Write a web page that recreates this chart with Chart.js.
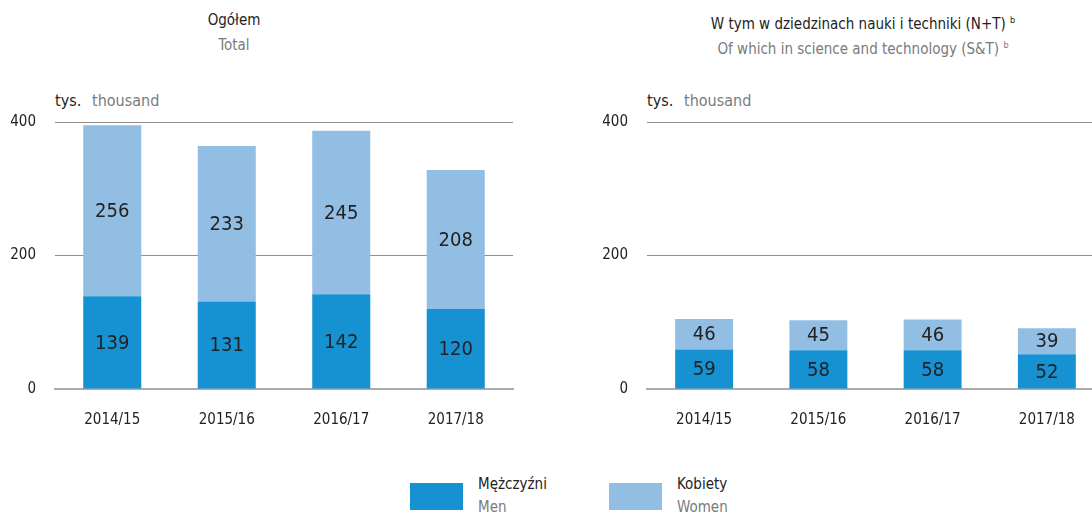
<!DOCTYPE html>
<html>
<head>
<meta charset="utf-8">
<script src="https://cdn.jsdelivr.net/npm/chart.js@4"></script>
<style>
  body { margin: 0; background: #fff; overflow: hidden; }
  #wrap { position: relative; width: 1092px; height: 515px; overflow: hidden;
          font-family: "Liberation Sans Narrow", "DejaVu Sans Condensed", sans-serif; }
  .t { position: absolute; font-size: 15px; white-space: nowrap; line-height: 20px; }
  .dark { color: #222; }
  .grey { color: #7a7a7a; }
  sup { font-size: 9px; vertical-align: 6px; }
  .sw { position: absolute; width: 53px; height: 27px; }
  canvas { position: absolute; top: 0; }
</style>
</head>
<body>
<div id="wrap">
  <div class="t dark" style="left:0;width:468px;text-align:center;top:10px">Ogółem</div>
  <div class="t grey" style="left:0;width:468px;text-align:center;top:35px">Total</div>
  <div class="t dark" style="left:600px;width:526px;text-align:center;top:10px">W tym w dziedzinach nauki i techniki (N+T) <sup>b</sup></div>
  <div class="t grey" style="left:600px;width:526px;text-align:center;top:35px">Of which in science and technology (S&amp;T) <sup>b</sup></div>

  <div class="t dark" style="left:55px;top:91px;font-size:16px">tys.</div>
  <div class="t grey" style="left:92px;top:91px;font-size:16px">thousand</div>
  <div class="t dark" style="left:647px;top:91px;font-size:16px">tys.</div>
  <div class="t grey" style="left:684px;top:91px;font-size:16px">thousand</div>

  <canvas id="left" width="546" height="440" style="left:0"></canvas>
  <canvas id="right" width="512" height="440" style="left:592px"></canvas>

  <div class="sw" style="left:410px;top:483px;background:rgb(22,146,211)"></div>
  <div class="t dark" style="left:478px;top:474px">Mężczyźni</div>
  <div class="t grey" style="left:478px;top:497px">Men</div>
  <div class="sw" style="left:609px;top:483px;background:rgb(147,190,228)"></div>
  <div class="t dark" style="left:677px;top:474px">Kobiety</div>
  <div class="t grey" style="left:677px;top:497px">Women</div>
</div>
<script>
const years = ['2014/15', '2015/16', '2016/17', '2017/18'];
const menTotal = [139, 131, 142, 120];
const womenTotal = [256, 233, 245, 208];
const menST = [59, 58, 58, 52];
const womenST = [46, 45, 46, 39];
const yTicks = [0, 200, 400];

const FONT = '"Liberation Sans Narrow", "DejaVu Sans Condensed", sans-serif';
const MEN = 'rgb(22,146,211)';
const WOMEN = 'rgb(147,190,228)';

// value labels in the middle of each segment
const barLabels = {
  id: 'barLabels',
  afterDatasetsDraw(chart) {
    const ctx = chart.ctx;
    ctx.save();
    ctx.font = '20px ' + FONT;
    ctx.fillStyle = '#222';
    ctx.textAlign = 'center';
    ctx.textBaseline = 'middle';
    chart.data.datasets.forEach((ds, i) => {
      chart.getDatasetMeta(i).data.forEach((bar, j) => {
        ctx.fillText(ds.data[j], bar.x, (bar.y + bar.base) / 2 + 1);
      });
    });
    ctx.restore();
  }
};

function makeChart(id, men, women, rightPad) {
  new Chart(document.getElementById(id), {
    type: 'bar',
    data: {
      labels: years,
      datasets: [
        { label: 'Mężczyźni', data: men, backgroundColor: MEN },
        { label: 'Kobiety', data: women, backgroundColor: WOMEN }
      ]
    },
    plugins: [barLabels],
    options: {
      responsive: false,
      animation: false,
      events: [],
      categoryPercentage: 1,
      barPercentage: 0.507,
      layout: { padding: { top: 122, right: rightPad, bottom: 0, left: 0 } },
      plugins: { legend: { display: false }, tooltip: { enabled: false } },
      scales: {
        x: {
          stacked: true,
          grid: { display: false, drawTicks: false },
          border: { color: '#ababab', width: 2 },
          ticks: { padding: 22, color: '#222', font: { family: FONT, size: 15 } },
          afterFit: (s) => { s.height = 51; }
        },
        y: {
          stacked: true,
          min: 0,
          max: 400,
          afterBuildTicks: (s) => { s.ticks = yTicks.map(v => ({ value: v })); },
          grid: { color: '#8f8f8f', lineWidth: 1, drawTicks: false },
          border: { display: false },
          ticks: { padding: 19, color: '#222', font: { family: FONT, size: 15 } },
          afterFit: (s) => { s.width = 55; }
        }
      }
    }
  });
}

makeChart('left', menTotal, womenTotal, 33);
makeChart('right', menST, womenST, 0);
</script>
</body>
</html>
